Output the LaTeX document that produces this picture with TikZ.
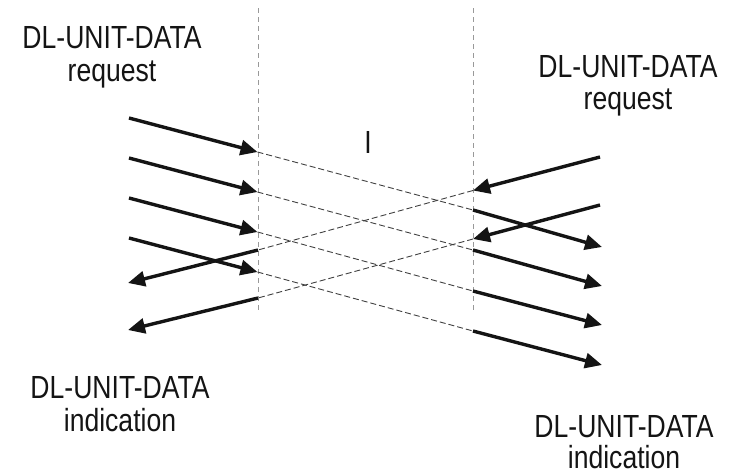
\documentclass[tikz,border=0pt]{standalone}
\usepackage{fontspec}
\setmainfont{Liberation Sans}[FakeStretch=0.83]
\usetikzlibrary{arrows.meta}
\begin{document}
\begin{tikzpicture}[x=1pt,y=-1pt,
  solidln/.style={line width=3.4pt, draw=black!92},
  arr/.style={solidln, -{Triangle[length=17pt,width=15pt]}},
  dashln/.style={line width=0.9pt, draw=black!75, dash pattern=on 6pt off 3pt},
  guide/.style={line width=0.9pt, draw=black!40, dash pattern=on 5pt off 4pt},
  lbl/.style={font=\fontsize{32}{36}\selectfont, anchor=base, inner sep=0pt, text=black!92}]
\useasboundingbox (0,0) rectangle (742,475);

% guide lines
\coordinate (vl1) at (258,8);
\coordinate (vl2) at (258,312);
\coordinate (vr1) at (473,8);
\coordinate (vr2) at (473,312);
\draw[guide] (vl1) -- (vl2);
\draw[guide] (vr1) -- (vr2);

% left-to-right primitives
\coordinate (a1) at (129,118); \coordinate (b1) at (257.5,152); \coordinate (c1) at (473,210); \coordinate (d1) at (602,247);
\coordinate (a2) at (129,158); \coordinate (b2) at (257.5,192); \coordinate (c2) at (473,250); \coordinate (d2) at (602,286);
\coordinate (a3) at (129,198); \coordinate (b3) at (257.5,232); \coordinate (c3) at (473,291); \coordinate (d3) at (602,325);
\coordinate (a4) at (129,238); \coordinate (b4) at (257.5,272); \coordinate (c4) at (473,331); \coordinate (d4) at (602,365);
\foreach \i in {1,2,3,4}{
  \draw[arr] (a\i) -- (b\i);
  \draw[dashln] (b\i) -- (c\i);
  \draw[arr] (c\i) -- (d\i);
}

% right-to-left primitives
\coordinate (e1) at (600,157); \coordinate (f1) at (473,190.5); \coordinate (g1) at (258,250); \coordinate (h1) at (128,283);
\coordinate (e2) at (600,205); \coordinate (f2) at (473,239); \coordinate (g2) at (258,298); \coordinate (h2) at (128,330);
\foreach \i in {1,2}{
  \draw[arr] (e\i) -- (f\i);
  \draw[dashln] (f\i) -- (g\i);
  \draw[arr] (g\i) -- (h\i);
}

% labels
\node[lbl] (tl1) at (112,48) {DL-UNIT-DATA};
\node[lbl] (tl2) at (112,81) {request};
\node[lbl] (tr1) at (628,77) {DL-UNIT-DATA};
\node[lbl] (tr2) at (628,109) {request};
\node[lbl] (bl1) at (120,398) {DL-UNIT-DATA};
\node[lbl] (bl2) at (120,431) {indication};
\node[lbl] (br1) at (624,437) {DL-UNIT-DATA};
\node[lbl] (br2) at (624,468) {indication};
\node[lbl] (lblI) at (368,153) {I};
\end{tikzpicture}
\end{document}
